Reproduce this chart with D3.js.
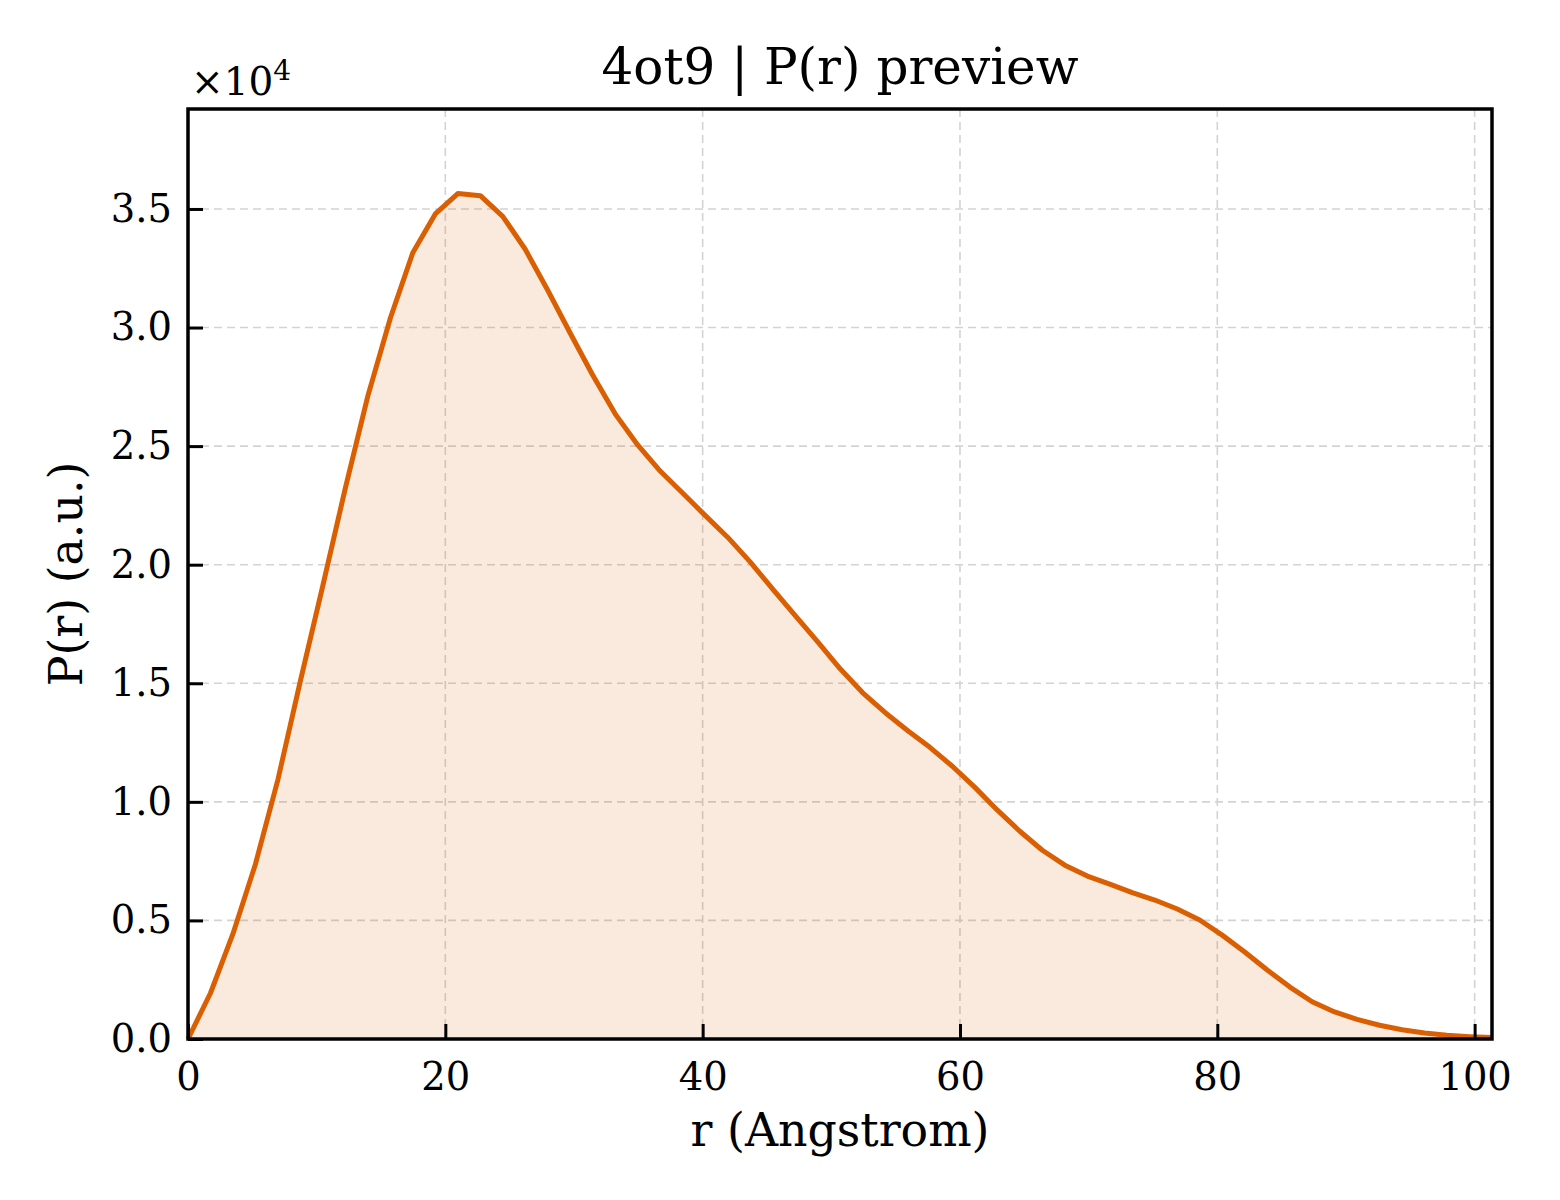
<!DOCTYPE html>
<html lang="en">
<head>
	<title>4ot9 P(r) preview</title>
	<script src="https://d3js.org/d3.v7.min.js" charset="utf-8"></script>
	<style>
	body { margin: 0; background: #fff; }
	text { font-family: "DejaVu Serif", serif; fill: #000; }
	</style>
</head>
<body>
	<script>
	// r grid (Angstrom) and P(r) values
	var rValues = [0, 1.75, 3.49, 5.24, 6.99, 8.74, 10.48, 12.23, 13.98, 15.73,
		17.47, 19.22, 20.97, 22.72, 24.46, 26.21, 27.96, 29.71, 31.45, 33.20,
		34.95, 36.70, 38.44, 40.19, 41.94, 43.69, 45.43, 47.18, 48.93, 50.67,
		52.42, 54.17, 55.92, 57.66, 59.41, 61.16, 62.91, 64.65, 66.40, 68.15,
		69.90, 71.64, 73.39, 75.14, 76.89, 78.63, 80.38, 82.13, 83.88, 85.62,
		87.37, 89.12, 90.86, 92.61, 94.36, 96.11, 97.85, 99.60, 101.35];
	var prValues = [0, 1940, 4430, 7370, 10940, 15110, 19120, 23230, 27120, 30400,
		33150, 34790, 35650, 35560, 34690, 33300, 31570, 29760, 28000, 26360,
		25050, 23950, 23020, 22080, 21160, 20120, 18980, 17860, 16760, 15620,
		14610, 13770, 13010, 12300, 11500, 10610, 9650, 8760, 7960, 7330,
		6870, 6530, 6170, 5860, 5480, 5020, 4380, 3670, 2910, 2200,
		1570, 1140, 830, 580, 390, 250, 160, 100, 60];
	var xTicks = [0, 20, 40, 60, 80, 100];
	var yTicks = [0, 0.5, 1.0, 1.5, 2.0, 2.5, 3.0, 3.5]; // in units of 1e4

	var W = 1560, H = 1200;
	var plotL = 188, plotR = 1492, plotT = 109, plotB = 1039;
	var lineColor = "#d95f02";

	var data = rValues.map(function(r, i) { return { r: r, p: prValues[i] / 1e4 }; });

	var x = d3.scaleLinear()
		.domain([0, d3.max(rValues)])
		.range([plotL, plotR]);
	var y = d3.scaleLinear()
		.domain([0, d3.max(data, function(d) { return d.p; }) * 1.1])
		.range([plotB, plotT]);

	var svg = d3.select("body").append("svg")
		.attr("width", W)
		.attr("height", H);

	// grid lines
	var grid = svg.append("g")
		.attr("stroke", "#d3d3d3")
		.attr("stroke-width", 1.6)
		.attr("stroke-dasharray", "8,5");
	grid.selectAll(".gx").data(xTicks.filter(function(t) { return t > 0; }))
		.enter().append("line")
		.attr("x1", function(d) { return x(d); })
		.attr("x2", function(d) { return x(d); })
		.attr("y1", plotT).attr("y2", plotB);
	grid.selectAll(".gy").data(yTicks.filter(function(t) { return t > 0; }))
		.enter().append("line")
		.attr("y1", function(d) { return y(d); })
		.attr("y2", function(d) { return y(d); })
		.attr("x1", plotL).attr("x2", plotR);

	// filled area + curve
	svg.append("path")
		.datum(data)
		.attr("fill", lineColor)
		.attr("fill-opacity", 0.13)
		.attr("d", d3.area()
			.x(function(d) { return x(d.r); })
			.y0(y(0))
			.y1(function(d) { return y(d.p); }));

	svg.append("path")
		.datum(data)
		.attr("fill", "none")
		.attr("stroke", lineColor)
		.attr("stroke-width", 5)
		.attr("stroke-linejoin", "round")
		.attr("d", d3.line()
			.x(function(d) { return x(d.r); })
			.y(function(d) { return y(d.p); }));

	// axes, ticks pointing inward
	var xAxis = svg.append("g")
		.attr("transform", "translate(0," + plotB + ")")
		.call(d3.axisBottom(x).tickValues(xTicks).tickSize(-15).tickPadding(24).tickFormat(d3.format("d")));
	var yAxis = svg.append("g")
		.attr("transform", "translate(" + plotL + ",0)")
		.call(d3.axisLeft(y).tickValues(yTicks).tickSize(-15).tickPadding(16).tickFormat(d3.format(".1f")));

	[xAxis, yAxis].forEach(function(ax) {
		ax.select(".domain").remove();
		ax.selectAll(".tick line").attr("stroke", "#000").attr("stroke-width", 3);
		ax.selectAll(".tick text")
			.style("font-family", "'DejaVu Serif', serif")
			.style("font-size", "38.5px")
			.attr("fill", "#000");
	});

	// frame
	svg.append("rect")
		.attr("x", plotL).attr("y", plotT)
		.attr("width", plotR - plotL).attr("height", plotB - plotT)
		.attr("fill", "none")
		.attr("stroke", "#000")
		.attr("stroke-width", 3.5);

	// offset text
	var off = svg.append("text")
		.attr("x", 191).attr("y", 95)
		.style("font-size", "39px");
	off.append("tspan").text("×10");
	off.append("tspan").attr("dy", -15).style("font-size", "28px").text("4");

	// title and labels
	svg.append("text")
		.attr("x", (plotL + plotR) / 2).attr("y", 84)
		.attr("text-anchor", "middle")
		.style("font-size", "50px")
		.text("4ot9 | P(r) preview");

	svg.append("text")
		.attr("x", (plotL + plotR) / 2).attr("y", 1146)
		.attr("text-anchor", "middle")
		.style("font-size", "45.8px")
		.text("r (Angstrom)");

	svg.append("text")
		.attr("text-anchor", "middle")
		.attr("transform", "translate(82," + ((plotT + plotB) / 2) + ") rotate(-90)")
		.style("font-size", "45.8px")
		.text("P(r) (a.u.)");
	</script>
</body>
</html>
